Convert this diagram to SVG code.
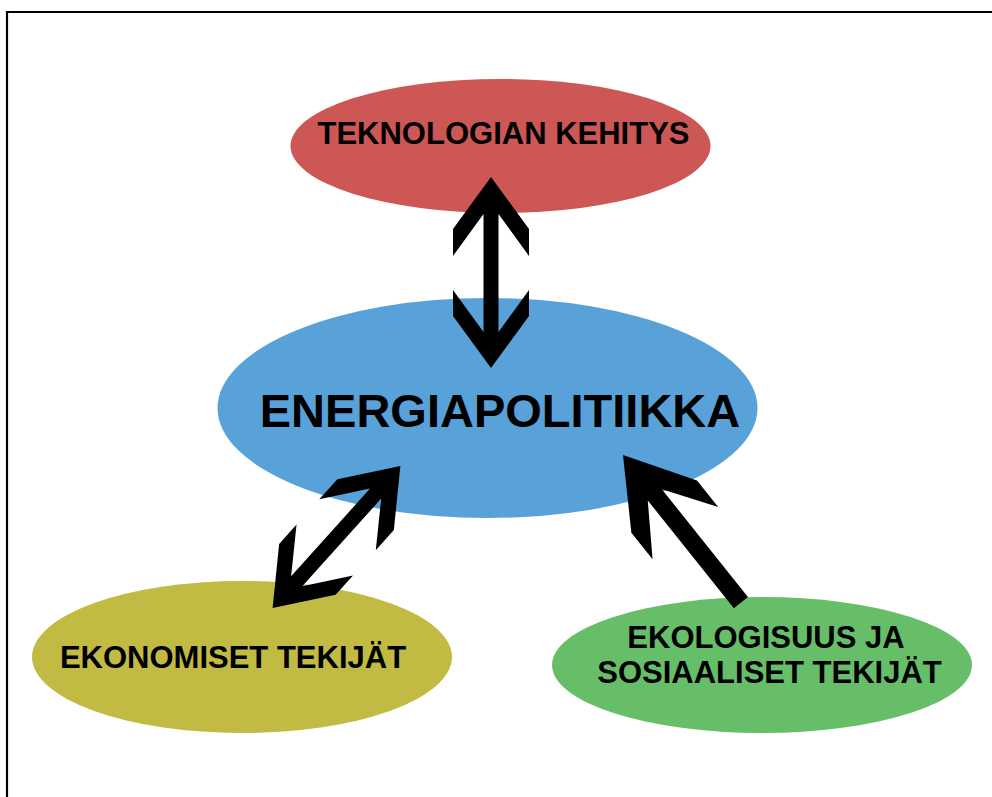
<svg xmlns="http://www.w3.org/2000/svg" width="992" height="797" viewBox="0 0 992 797">
<style>
.lbl{font-family:"Liberation Sans",Arial,sans-serif;font-weight:bold;fill:#000;text-anchor:middle}
.arrow{fill:#000}
</style>
<rect x="0" y="0" width="992" height="797" fill="#fff"/>
<path d="M7,797 V12 H992" fill="none" stroke="#000" stroke-width="2.2"/>
<g id="node-teknologia">
<ellipse cx="500.5" cy="146" rx="210" ry="67" fill="#cd5755"/>
<text class="lbl" x="503.5" y="144" font-size="31">TEKNOLOGIAN KEHITYS</text>
</g>
<g id="node-energiapolitiikka">
<ellipse cx="487.5" cy="408" rx="270" ry="110" fill="#59a2d9"/>
<text class="lbl" x="500" y="427" font-size="47">ENERGIAPOLITIIKKA</text>
</g>
<g id="node-ekonomiset">
<ellipse cx="242" cy="657" rx="210" ry="76" fill="#c1bb44"/>
<text class="lbl" x="233" y="668" font-size="31">EKONOMISET TEKIJÄT</text>
</g>
<g id="node-ekologisuus">
<ellipse cx="762" cy="665" rx="210" ry="68" fill="#67be69"/>
<text class="lbl" x="766" y="648" font-size="31">EKOLOGISUUS JA</text>
<text class="lbl" x="769.5" y="683" font-size="31">SOSIAALISET TEKIJÄT</text>
</g>
<g id="connectors">
<defs>
<polygon id="dbl" points="0,-95.5 38,-43.5 38,-16.5 7.5,-58.5 7.5,59.5 38,17.5 38,43.5 0,95.5 -38,43.5 -38,17.5 -7.5,59.5 -7.5,-58.5 -38,-16.5 -38,-43.5"/>
</defs>
<use href="#dbl" class="arrow" transform="translate(491,272.5)"/>
<use href="#dbl" class="arrow" transform="translate(336.5,537) rotate(42)"/>
<polygon class="arrow" transform="translate(623,455) rotate(-38.6)" points="0,0 42,66 42,100 9,51 9,189 -9,189 -9,51 -42,100 -42,66"/>
</g>
</svg>
